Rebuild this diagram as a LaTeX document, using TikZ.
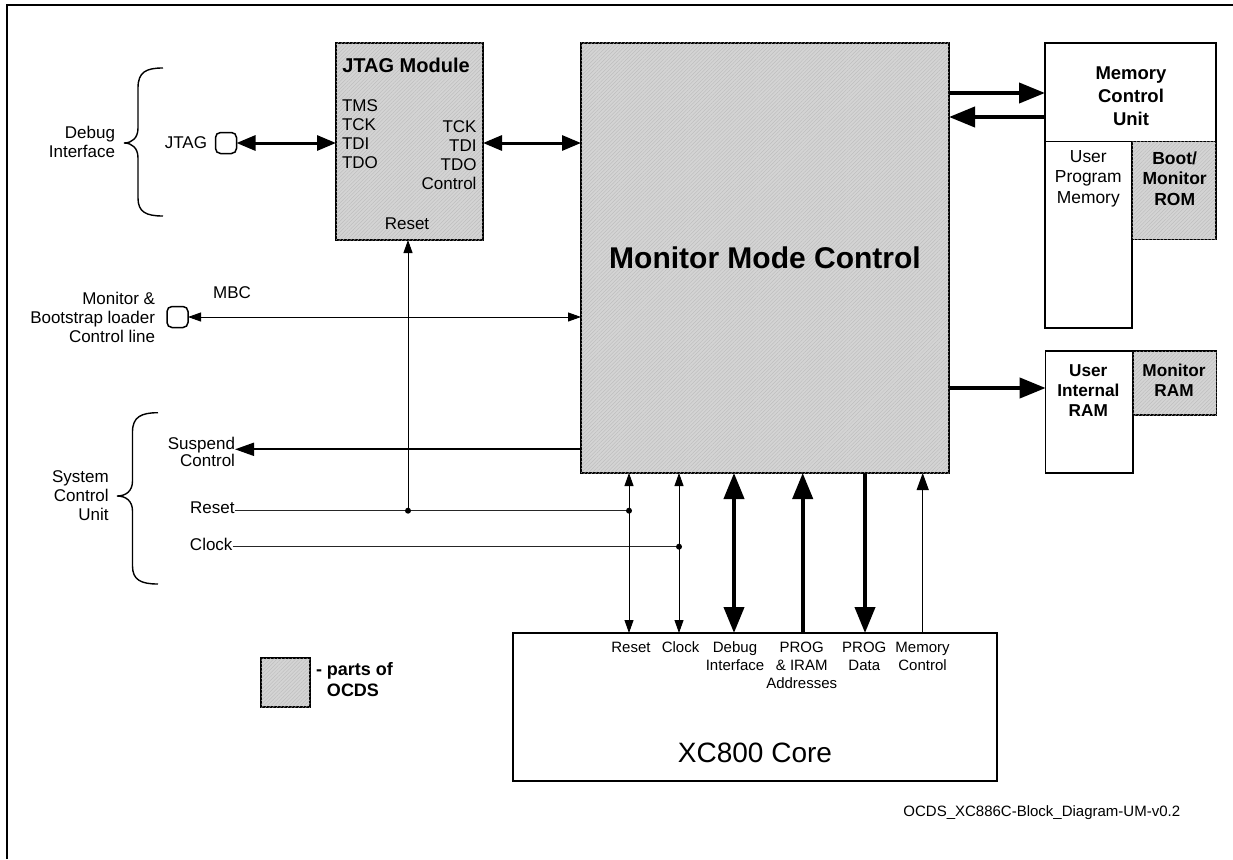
\documentclass[tikz,border=0pt]{standalone}
\usepackage{fontspec}
\setmainfont{Liberation Sans}
\usetikzlibrary{arrows.meta,patterns.meta,calc}
\definecolor{ocdsfill}{RGB}{212,212,212}
\newcommand{\setfsz}[2]{\fontsize{#1}{#2}\selectfont}
\tikzset{
  every node/.style={inner sep=0pt,outer sep=0pt},
  blk/.style={draw,line width=1.5pt,align=center},
  ocds/.style={blk,fill=ocdsfill,postaction={pattern={Lines[angle=45,distance=2.6pt,line width=0.35pt]},pattern color=gray!55}},
  conn/.style={draw,line width=1.5pt,rounded corners=5pt,minimum width=21pt,minimum height=21pt},
  lbl/.style={font=\setfsz{17}{19}},
  sml/.style={font=\setfsz{15}{18},align=center},
  thin/.style={line width=0.9pt},
  thinarr/.style={thin,-{Triangle[length=13pt,width=9pt]}},
  thinboth/.style={thin,{Triangle[length=13pt,width=9pt]}-{Triangle[length=13pt,width=9pt]}},
  medboth/.style={line width=3pt,{Triangle[length=19pt,width=15pt]}-{Triangle[length=19pt,width=15pt]}},
  fatarr/.style={line width=4pt,-{Triangle[length=26pt,width=20pt]}},
  fatboth/.style={line width=4pt,{Triangle[length=26pt,width=20pt]}-{Triangle[length=26pt,width=20pt]}},
  dot/.style={circle,fill,minimum size=6pt}
}
\begin{document}
\begin{tikzpicture}[x=1pt,y=-1pt]
\useasboundingbox (0,0) rectangle (1233,859);
% frame
\draw[line width=2pt] (7,859) -- (7,5) -- (1240,5);

% main blocks
\node[ocds,minimum width=147pt,minimum height=197pt] (jtag) at (409.5,141.5) {};
\node[ocds,minimum width=368pt,minimum height=430pt] (mmc) at (765,258) {};
\node[blk,minimum width=171pt,minimum height=98.7pt] (mcu) at (1130.5,92.3) {};
\node[blk,minimum width=87pt,minimum height=186.3pt] (upm) at (1088.5,234.8) {};
\node[ocds,minimum width=84pt,minimum height=97.6pt] (boot) at (1174,190.5) {};
\node[blk,minimum width=87.3pt,minimum height=122pt] (uram) at (1089.3,412) {};
\node[ocds,minimum width=83.7pt,minimum height=64pt] (mram) at (1174.8,383) {};
\node[blk,minimum width=483.7pt,minimum height=148pt] (xc) at (755,707) {};
\node[ocds,minimum width=49pt,minimum height=49pt] (leg) at (285.5,682.5) {};

% texts in blocks
\node[font=\bfseries\setfsz{20}{22}] (jtagt) at (406,65) {JTAG Module};
\node[lbl,align=left,anchor=west] (jtagl) at (342,134.5) {TMS\\TCK\\TDI\\TDO};
\node[lbl,align=right,anchor=east] (jtagr) at (476.5,155.5) {TCK\\TDI\\TDO\\Control};
\node[lbl] (jtagrst) at (407,224) {Reset};
\node[font=\bfseries\setfsz{30}{34}] (mmct) at (765,258) {Monitor Mode Control};
\node[font=\bfseries\setfsz{18.5}{23},align=center] (mcut) at (1131,96) {Memory\\Control\\Unit};
\node[font=\setfsz{17.4}{20.5},align=center] (upmt) at (1088.3,178.5) {User\\Program\\Memory};
\node[font=\bfseries\setfsz{17.5}{20.5},align=center] (boott) at (1174.7,178.5) {Boot/\\Monitor\\ROM};
\node[font=\bfseries\setfsz{17.2}{20},align=center] (uramt) at (1088.3,391) {User\\Internal\\RAM};
\node[font=\bfseries\setfsz{17.2}{20},align=center] (mramt) at (1174,380.7) {Monitor\\RAM};
\node[font=\setfsz{28}{30}] (xct) at (xc.center |- 0,753) {XC800 Core};
\node[font=\bfseries\setfsz{18}{21},align=left,anchor=north west] (legt) at (316,662) {- parts of\\\phantom{- }OCDS};

% bottom labels in XC800
\node[sml,anchor=north] (bl1) at (631,642) {Reset};
\node[sml,anchor=north] (bl2) at (680.5,642) {Clock};
\node[sml,anchor=north] (bl3) at (735,642) {Debug\\Interface};
\node[sml,anchor=north] (bl4) at (801.7,642) {PROG\\\& IRAM\\Addresses};
\node[sml,anchor=north] (bl5) at (864.3,642) {PROG\\Data};
\node[sml,anchor=north] (bl6) at (922.5,642) {Memory\\Control};

% left side labels and connectors
\node[lbl,align=right,anchor=east] (dbgi) at (115,142) {Debug\\Interface};
\node[conn] (jtagc) at (226,143) {};
\node[lbl,anchor=east] (jtagn) at (207,143) {JTAG};
\node[conn] (mbcc) at (177.5,317) {};
\node[lbl,align=right,anchor=east] (mbcl) at (155,317) {Monitor \&\\Bootstrap loader\\Control line};
\node[lbl] (mbct) at (232,293) {MBC};
\node[lbl,align=right,anchor=east] (scu) at (108.7,495.5) {System\\Control\\Unit};
\node[font=\setfsz{17}{15},align=right,anchor=east] (susp) at (235,451.5) {Suspend\\Control};
\node[lbl,anchor=east] (rstl) at (234.5,507.7) {Reset};
\node[lbl,anchor=east] (clkl) at (232.5,544) {Clock};

% braces
\draw[line width=1.4pt] (163,68) .. controls (146,68) and (138,72) .. (138,88) -- (138,128)
  .. controls (138,138) and (132,143) .. (124,143)
  .. controls (132,143) and (138,148) .. (138,158) -- (138,198)
  .. controls (138,212) and (146,216) .. (163,216);
\draw[line width=1.4pt] (158,412.7) .. controls (141,412.7) and (132.5,417) .. (132.5,432) -- (132.5,481)
  .. controls (132.5,491) and (126,496) .. (117,496)
  .. controls (126,496) and (132.5,501) .. (132.5,511) -- (132.5,566)
  .. controls (132.5,580) and (141,584) .. (158,584);

% coordinates
\coordinate (jr1) at (408,510.7);
\coordinate (jr2) at (629,510.7);
\coordinate (jc) at (679,546.7);
\coordinate (xdbg) at (734,0);
\coordinate (xadr) at (802.7,0);
\coordinate (xdat) at (865,0);
\coordinate (xmem) at (922.7,0);
\coordinate (ymcu1) at (0,93);
\coordinate (ymcu2) at (0,117);
\coordinate (yram) at (0,388);
\coordinate (ysusp) at (0,449.3);

% connectors
\draw[medboth] (jtagc.east) -- (jtagc -| jtag.west);
\draw[medboth] (jtag.east |- jtagc) -- (mmc.west |- jtagc);
\draw[thinboth] (mbcc.east) -- (mbcc -| mmc.west);
\draw[line width=2pt,-{Triangle[length=19pt,width=13pt]}] (mmc.west |- ysusp) -- (susp.east |- ysusp);
\draw[thin,black!85] (jr2 -| rstl.east) -- (jr2);
\draw[thin,black!85] (jc -| clkl.east) -- (jc);
\draw[thinarr] (jr1) -- (jtag.south -| jr1);
\node[dot] (d1) at (jr1) {};
\node[dot] (d2) at (jr2) {};
\node[dot] (d3) at (jc) {};
\draw[thinboth] (mmc.south -| jr2) -- (xc.north -| jr2);
\draw[thinboth] (mmc.south -| jc) -- (xc.north -| jc);
\draw[fatboth] (mmc.south -| xdbg) -- (xc.north -| xdbg);
\draw[fatarr] (xc.north -| xadr) -- (mmc.south -| xadr);
\draw[fatarr] (mmc.south -| xdat) -- (xc.north -| xdat);
\draw[line width=1.2pt,-{Triangle[length=17pt,width=12pt]}] (xc.north -| xmem) -- (mmc.south -| xmem);
\draw[fatarr] (mmc.east |- ymcu1) -- (mcu.west |- ymcu1);
\draw[fatarr] (mcu.west |- ymcu2) -- (mmc.east |- ymcu2);
\draw[fatarr] (mmc.east |- yram) -- (uram.west |- yram);

% footer
\node[font=\setfsz{15}{18}] (foot) at (1041.8,813) {OCDS\_XC886C-Block\_Diagram-UM-v0.2};
\end{tikzpicture}
\end{document}
